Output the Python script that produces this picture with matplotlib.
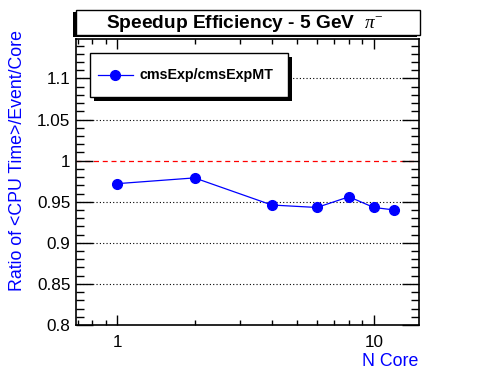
import matplotlib
matplotlib.use("Agg")
import matplotlib.pyplot as plt
from matplotlib.patches import Rectangle
from matplotlib.ticker import FixedLocator, MultipleLocator, NullFormatter

# data
n_core = [1, 2, 4, 6, 8, 10, 12]
ratio = [0.972, 0.979, 0.946, 0.943, 0.956, 0.943, 0.940]
series_name = "cmsExp/cmsExpMT"
title = "Speedup Efficiency - 5 GeV  $\\pi^{-}$"
ylabel = "Ratio of <CPU Time>/Event/Core"
xlabel = "N Core"
grid_levels = [0.85, 0.9, 0.95, 1.05, 1.1]

plt.rcParams['font.family'] = ['Liberation Sans', 'DejaVu Sans']
plt.rcParams['mathtext.fontset'] = 'custom'
plt.rcParams['mathtext.rm'] = 'Liberation Serif'
plt.rcParams['mathtext.it'] = 'Liberation Serif:italic'

W, H = 496, 372
fig = plt.figure(figsize=(W / 100, H / 100), dpi=100)

def fx(px):
    return px / W

def fy(py):
    return 1 - py / H

# axes frame in pixels
left, right, top, bottom = 76, 419, 39, 325
ax = fig.add_axes([fx(left), fy(bottom), fx(right - left), (bottom - top) / H])

ax.set_xscale('log')
ax.set_xlim(0.69, 15.0)
ax.set_ylim(0.8, 1.148)

for y in grid_levels:
    ax.axhline(y, color='black', lw=0.8, ls=(0, (1, 2)), zorder=1)
ax.axhline(1.0, color='red', lw=0.9, ls=(0, (4, 3)), zorder=1)

ax.plot(n_core, ratio, color='blue', lw=0.9, marker='o', ms=7,
        mec='blue', mfc='blue', zorder=3)

# ticks, ROOT style (inside, on all sides)
ax.xaxis.set_major_locator(FixedLocator([1, 10]))
ax.xaxis.set_minor_locator(FixedLocator([0.7, 0.8, 0.9, 2, 3, 4, 5, 6, 7, 8, 9]))
ax.xaxis.set_minor_formatter(NullFormatter())
ax.set_xticklabels(['1', '10'])
ax.yaxis.set_major_locator(MultipleLocator(0.05))
ax.yaxis.set_minor_locator(MultipleLocator(0.01))
ax.set_yticks([0.8, 0.85, 0.9, 0.95, 1.0, 1.05, 1.1])
ax.set_yticklabels(['0.8', '0.85', '0.9', '0.95', '1', '1.05', '1.1'])

ax.tick_params(axis='both', which='both', direction='in', top=True, right=True,
               labelsize=12.3, width=1, colors='black')
ax.tick_params(axis='x', which='major', length=7, pad=7)
ax.tick_params(axis='x', which='minor', length=3.5)
ax.tick_params(axis='y', which='major', length=12, pad=4)
ax.tick_params(axis='y', which='minor', length=6)
for s in ax.spines.values():
    s.set_linewidth(1.2)

fig.text(fx(18), fy(30), ylabel, color='blue', fontsize=12.8, rotation=90,
         ha='center', va='top')
fig.text(fx(418), fy(362), xlabel, color='blue', fontsize=12.8,
         ha='right', va='center')

# title box with shadow
tx0, tx1, ty0, ty1 = 76, 420, 10, 35
fig.patches.append(Rectangle((fx(tx0 - 3), fy(ty1 + 2)), fx(tx1 - tx0), (ty1 - ty0) / H,
                             transform=fig.transFigure, facecolor='black',
                             edgecolor='none', zorder=5))
fig.patches.append(Rectangle((fx(tx0), fy(ty1)), fx(tx1 - tx0), (ty1 - ty0) / H,
                             transform=fig.transFigure, facecolor='white',
                             edgecolor='black', lw=1, zorder=6))
fig.text(fx(245), fy(23), title, fontsize=13.8, fontweight='bold',
         ha='center', va='center', zorder=7)

# legend box with shadow
lx0, lx1, ly0, ly1 = 90, 288, 53, 97
fig.patches.append(Rectangle((fx(lx0 + 4), fy(ly1 + 4)), fx(lx1 - lx0), (ly1 - ly0) / H,
                             transform=fig.transFigure, facecolor='black',
                             edgecolor='none', zorder=5))
fig.patches.append(Rectangle((fx(lx0), fy(ly1)), fx(lx1 - lx0), (ly1 - ly0) / H,
                             transform=fig.transFigure, facecolor='white',
                             edgecolor='black', lw=1, zorder=6))
fig.lines.append(plt.Line2D([fx(98), fx(133)], [fy(75), fy(75)], color='blue', lw=0.9,
                            transform=fig.transFigure, zorder=7))
fig.lines.append(plt.Line2D([fx(115)], [fy(75)], color='blue', marker='o', ms=7,
                            transform=fig.transFigure, zorder=7))
fig.text(fx(139), fy(75), series_name, fontsize=10.3, fontweight='bold',
         ha='left', va='center', zorder=7)

fig.savefig('out.png', dpi=100)
